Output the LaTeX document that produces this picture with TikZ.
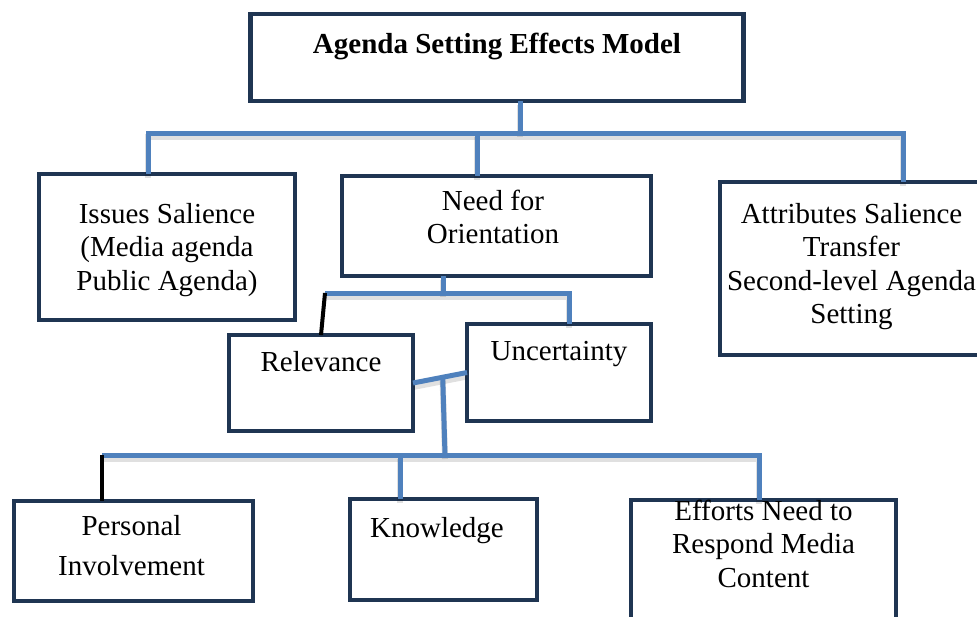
\documentclass[tikz,border=0pt]{standalone}
\usepackage{fontspec}
\setmainfont{Liberation Serif}
\usepackage{tikz}

\definecolor{boxnavy}{RGB}{31,53,82}
\definecolor{linkblue}{RGB}{79,129,189}

\tikzset{
  box/.style={draw=boxnavy, line width=2.3pt, rectangle, outer sep=0pt, inner sep=0pt},
  txt/.style={anchor=base, align=center, inner sep=0pt, font=\fontsize{14.5}{16.75}\selectfont},
  link/.style={draw=linkblue, line width=2.5pt,
               preaction={draw=black, opacity=0.12, line width=3pt, transform canvas={yshift=-2pt}}},
  stem/.style={draw=black, line width=2pt}
}

\begin{document}
\begin{tikzpicture}[x=0.5pt, y=-0.5pt]
\useasboundingbox (0,0) rectangle (977,616);

% the boxes: text sits near the top edge, so it goes in as a label
% (base of a multi-line label is its last line, hence the bigger yshift)
\node[
      box,
      minimum width=246.5pt,
      minimum height=43.5pt,
      label={[txt, yshift=-19.5pt, font=\fontsize{14.5}{16.75}\selectfont\bfseries]north:Agenda Setting Effects Model}
] (model) at (497,57.5) {};
\node[
      box,
      minimum width=128pt,
      minimum height=73pt,
      label={[txt, yshift=-58pt]north:{Issues Salience\\(Media agenda\\Public Agenda)}}
] (issues) at (167,247) {};
\node[
      box,
      minimum width=154.5pt,
      minimum height=50pt,
      label={[txt, yshift=-33.75pt, xshift=-1.75pt]north:{Need for\\Orientation}}
] (need) at (496.5,226) {};
\node[
      box,
      minimum width=131.5pt,
      minimum height=86.5pt,
      label={[txt, yshift=-70.75pt]north:{Attributes Salience\\Transfer\\Second-level Agenda\\Setting}}
] (attrib) at (851.5,268.5) {};%< -- runs past the right edge
\node[
      box,
      minimum width=92pt,
      minimum height=48pt,
      label={[txt, yshift=-18pt]north:Relevance}
] (relev) at (321,383) {};
\node[
      box,
      minimum width=92pt,
      minimum height=48.5pt,
      label={[txt, yshift=-18pt]north:Uncertainty}
] (uncert) at (559,372.5) {};
\node[
      box,
      minimum width=119.5pt,
      minimum height=50pt,
      label={[txt, yshift=-37pt, xshift=-1pt]north:{Personal\\[3.25pt]Involvement}}
] (person) at (133.5,551) {};
\node[
      box,
      minimum width=93.5pt,
      minimum height=50.5pt,
      label={[txt, yshift=-19pt, xshift=-3.25pt]north:Knowledge}
] (know) at (443.5,549.5) {};
\node[
      box,
      minimum width=132.5pt,
      minimum height=75pt,
      label={[txt, yshift=-43.5pt]north:{Efforts Need to\\Respond Media\\Content}}
] (effort) at (763.5,575) {};%< -- runs past the bottom edge

% first level
\coordinate (hub1) at (520,133);
\coordinate (hub1w) at (148,133);
\coordinate (hub1n) at (477,133);
\coordinate (hub1e) at (903,133);
\draw[link] (model.south -| hub1) -- (hub1);
\draw[link] (issues.north -| hub1w) -- (hub1w) -- (hub1e) -- (attrib.north -| hub1e);
\draw[link] (hub1n) -- (need.north -| hub1n);

% second level
\coordinate (hub2) at (443,293);
\coordinate (hub2w) at (325,293);
\coordinate (hub2e) at (569,293);
\draw[link] (need.south -| hub2) -- (hub2);
\draw[link] (hub2w) -- (hub2e) -- (uncert.north -| hub2e);
\draw[stem] (hub2w) -- (relev.north);

% third level
\draw[link] (relev.east) -- coordinate[pos=.55] (bridge) (uncert.west);
\coordinate (hub3) at (445,455);
\coordinate (hub3w) at (102,455);
\coordinate (hub3k) at (400,455);
\coordinate (hub3e) at (759,455);
\draw[link] (bridge) -- (hub3);
\draw[link] (hub3w) -- (hub3e) -- (effort.north -| hub3e);
\draw[link] (hub3k) -- (know.north -| hub3k);
\draw[stem] (hub3w) -- (person.north -| hub3w);
\end{tikzpicture}
\end{document}
